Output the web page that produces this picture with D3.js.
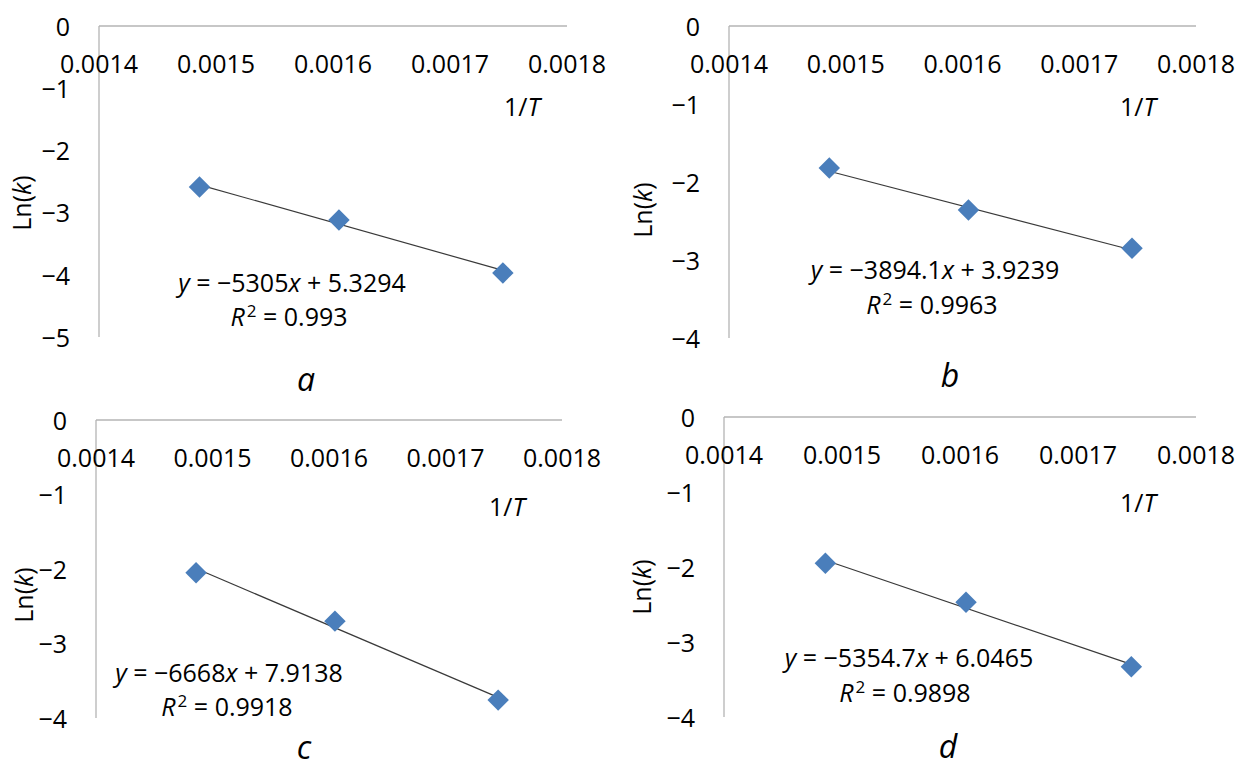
<!DOCTYPE html>
<html>
<head>
<meta charset="utf-8">
<script src="https://cdn.jsdelivr.net/npm/d3@7"></script>
<style>
  html, body { margin: 0; padding: 0; background: #fff; }
  svg { display: block; }
  text { font-family: "Open Sans", "Liberation Sans", sans-serif; fill: #000; }
</style>
</head>
<body>
<svg id="chart" width="1236" height="772"></svg>
<script>
// ---- data ----
const invT = [0.0014859, 0.0016051, 0.0017452];          // 1/T (x values)
const lnkA = [-2.59, -3.12, -3.97];
const lnkB = [-1.82, -2.36, -2.85];
const lnkC = [-2.05, -2.70, -3.76];
const lnkD = [-1.95, -2.47, -3.33];
const slopes = [-5305, -3894.1, -6668, -5354.7];
const intercepts = [5.3294, 3.9239, 7.9138, 6.0465];
const r2Values = ["0.993", "0.9963", "0.9918", "0.9898"];
const panelLetters = ["a", "b", "c", "d"];
const xTicks = [0.0014, 0.0015, 0.0016, 0.0017, 0.0018];
const yTicksA = [0, -1, -2, -3, -4, -5];
const yTicksOther = [0, -1, -2, -3, -4];
const xLabel = "1/T";
const yLabel = "Ln(k)";

// ---- layout (positions only) ----
const panels = [
  { lnk: lnkA, yTicks: yTicksA, left: 99, right: 567, top: 26, bottom: 337,
    eq: [292, 283], r2: [289, 317], xl: [522, 107], letter: [306, 380], yl: [22, 203] },
  { lnk: lnkB, yTicks: yTicksOther, left: 729, right: 1196, top: 26, bottom: 338,
    eq: [935, 270], r2: [932, 305], xl: [1138, 107], letter: [950, 376], yl: [643, 210] },
  { lnk: lnkC, yTicks: yTicksOther, left: 96, right: 562, top: 420, bottom: 718,
    eq: [229, 673], r2: [227, 707], xl: [507, 507], letter: [304, 748], yl: [24, 595] },
  { lnk: lnkD, yTicks: yTicksOther, left: 724, right: 1196, top: 417, bottom: 717,
    eq: [909, 658], r2: [905, 693], xl: [1138, 503], letter: [948, 747], yl: [642, 587] }
];

const svg = d3.select("#chart");
const fmtTick = v => (v < 0 ? "\u2212" : "") + Math.abs(v);
const fmtX = d3.format(".4f");
const AX = "#b4b4b4";
const FS = 25;

panels.forEach((p, i) => {
  const x = d3.scaleLinear().domain([xTicks[0], xTicks[xTicks.length - 1]]).range([p.left, p.right]);
  const y = d3.scaleLinear().domain([0, d3.min(p.yTicks)]).range([p.top, p.bottom]);
  const g = svg.append("g");

  // axis lines
  g.append("line").attr("x1", x(xTicks[0])).attr("x2", x(xTicks[xTicks.length - 1]))
    .attr("y1", y(0)).attr("y2", y(0)).attr("stroke", AX).attr("stroke-width", 1.3);
  g.append("line").attr("x1", x(xTicks[0])).attr("x2", x(xTicks[0]))
    .attr("y1", y(0)).attr("y2", y(d3.min(p.yTicks))).attr("stroke", AX).attr("stroke-width", 1.3);

  // x tick labels
  g.selectAll(".xt").data(xTicks).join("text")
    .attr("x", d => x(d)).attr("y", y(0) + 38).attr("dy", "0.35em")
    .attr("text-anchor", "middle").attr("font-size", FS).text(d => fmtX(d));

  // y tick labels
  g.selectAll(".yt").data(p.yTicks).join("text")
    .attr("x", p.left - 29).attr("y", d => y(d) + 1).attr("dy", "0.35em")
    .attr("text-anchor", "end").attr("font-size", FS).text(d => fmtTick(d));

  // x axis title
  const xt = g.append("text").attr("x", p.xl[0]).attr("y", p.xl[1]).attr("dy", "0.35em")
    .attr("text-anchor", "middle").attr("font-size", FS);
  xt.append("tspan").text(xLabel.slice(0, 2));
  xt.append("tspan").attr("font-style", "italic").text(xLabel.slice(2));

  // y axis title
  const yt = g.append("text").attr("transform", `translate(${p.yl[0]},${p.yl[1]}) rotate(-90)`)
    .attr("dy", "0.35em").attr("text-anchor", "middle").attr("font-size", FS);
  yt.append("tspan").text("Ln(");
  yt.append("tspan").attr("font-style", "italic").text("k");
  yt.append("tspan").text(")");

  // trend line
  const tl = [invT[0], invT[invT.length - 1]].map(v => [v, slopes[i] * v + intercepts[i]]);
  g.append("path").datum(tl)
    .attr("d", d3.line().x(d => x(d[0])).y(d => y(d[1])))
    .attr("stroke", "#3a3a3a").attr("stroke-width", 1.2).attr("fill", "none");

  // markers
  const sym = d3.symbol().type(d3.symbolSquare).size(230);
  g.selectAll(".pt").data(invT.map((v, k) => [v, p.lnk[k]])).join("path")
    .attr("d", sym)
    .attr("transform", d => `translate(${x(d[0])},${y(d[1])}) rotate(45)`)
    .attr("fill", "#4a7ebb");

  // equation
  const eq = g.append("text").attr("x", p.eq[0]).attr("y", p.eq[1]).attr("dy", "0.35em")
    .attr("text-anchor", "middle").attr("font-size", FS);
  eq.append("tspan").attr("font-style", "italic").text("y");
  eq.append("tspan").text(" = \u2212" + Math.abs(slopes[i]));
  eq.append("tspan").attr("font-style", "italic").text("x");
  eq.append("tspan").text(" + " + intercepts[i]);

  const r2 = g.append("text").attr("x", p.r2[0]).attr("y", p.r2[1]).attr("dy", "0.35em")
    .attr("text-anchor", "middle").attr("font-size", FS);
  r2.append("tspan").attr("font-style", "italic").text("R");
  r2.append("tspan").attr("font-size", FS * 0.68).attr("dx", 2).attr("dy", "-0.5em").text("2");
  r2.append("tspan").attr("dy", "0.34em").text(" = " + r2Values[i]);

  // panel letter
  g.append("text").attr("x", p.letter[0]).attr("y", p.letter[1]).attr("dy", "0.35em")
    .attr("text-anchor", "middle").attr("font-size", 32)
    .attr("font-family", "'Liberation Serif', 'DejaVu Serif', serif")
    .attr("font-style", "italic").text(panelLetters[i]);
});
</script>
</body>
</html>
